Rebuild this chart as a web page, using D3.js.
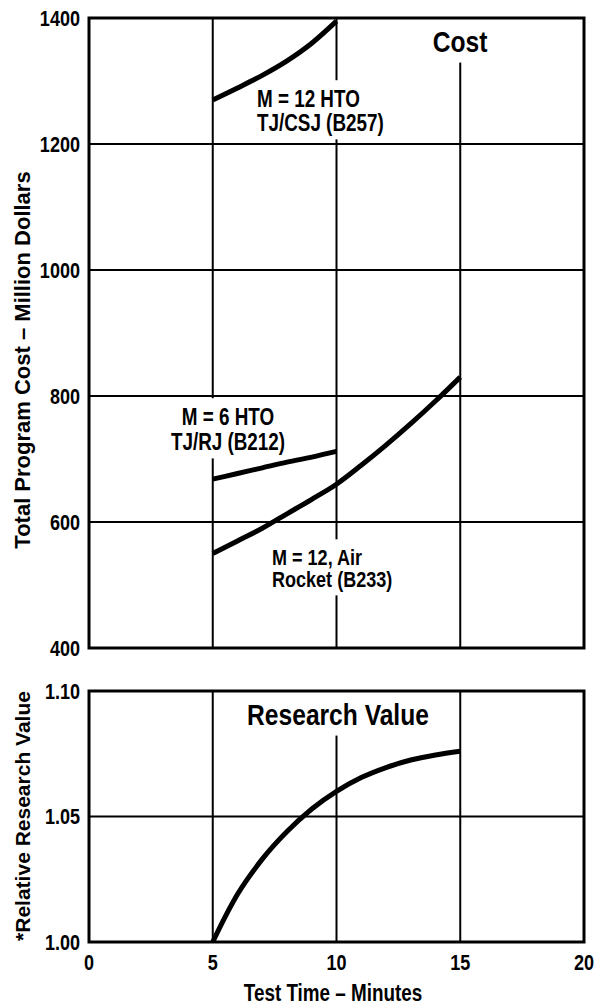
<!DOCTYPE html>
<html>
<head>
<meta charset="utf-8">
<script src="https://cdn.jsdelivr.net/npm/d3@7"></script>
<style>
  body { margin: 0; background: #fff; }
  text { font-family: "Liberation Sans", Arial, sans-serif; font-weight: bold; }
</style>
</head>
<body>
<div class="chartDIV"></div>
<script>
// Cost and research value vs. test time, two stacked panels

// test time (minutes) for each curve
var htoTime = [5, 6, 7, 8, 9, 10],
    rocketTime = [5, 6, 7, 8, 9, 10, 11, 12, 13, 14, 15],
    researchTime = [5, 5.5, 6, 7, 8, 9, 10, 11, 12, 13, 14, 15];

// total program cost, million dollars
var costM12Hto = [1270, 1289, 1309, 1332, 1360, 1395],
    costM6Hto = [668, 677, 686, 695, 703, 712],
    costM12Rocket = [550, 570, 590, 613, 636, 660, 690, 722, 756, 792, 830];

// relative research value
var researchValue = [1.000, 1.010, 1.019, 1.033, 1.044, 1.053, 1.060, 1.0655, 1.0695, 1.0725, 1.0745, 1.076];

var xTicks = [0, 5, 10, 15, 20],
    costTicks = [400, 600, 800, 1000, 1200, 1400],
    valueTicks = [1.00, 1.05, 1.10];

var width = 599,
    height = 1007,
    squeeze = 0.82,   // the lettering is a narrow bold face
    svg = d3.select(".chartDIV").
        append("svg").
        attr("width", width).
        attr("height", height);

var x = d3.scaleLinear().domain([0, 20]).range([89, 584]),
    yCost = d3.scaleLinear().domain([400, 1400]).range([648, 18]),
    yValue = d3.scaleLinear().domain([1.00, 1.10]).range([942, 691]);

// narrow text: a group squeezed sideways, text drawn at its origin
function narrow(parent, tx, ty, anchor, size) {
    return parent.append("g").
        attr("transform", "translate(" + tx + "," + ty + ") scale(" + squeeze + ",1)").
        append("text").
        attr("text-anchor", anchor).
        style("font-size", size + "px");
}

function drawPanel(y, yTicks, fmt) {
    var g = svg.append("g");
    g.selectAll(".vgrid").
        data(xTicks.slice(1, -1)).
        enter().
        append("line").
        attr("x1", function(d) { return x(d); }).
        attr("x2", function(d) { return x(d); }).
        attr("y1", y.range()[1]).
        attr("y2", y.range()[0]).
        attr("stroke", "#000").
        attr("stroke-width", 2);
    g.selectAll(".hgrid").
        data(yTicks.slice(1, -1)).
        enter().
        append("line").
        attr("x1", x.range()[0]).
        attr("x2", x.range()[1]).
        attr("y1", function(d) { return y(d); }).
        attr("y2", function(d) { return y(d); }).
        attr("stroke", "#000").
        attr("stroke-width", 2);
    yTicks.forEach(function(d) {
        narrow(g, 80, y(d), "end", 22).attr("dy", "0.36em").text(fmt(d));
    });
    return g;
}

drawPanel(yCost, costTicks, d3.format("d"));
drawPanel(yValue, valueTicks, d3.format(".2f"));

// labels with a white box that hides the grid behind them
function label(lines, lx, ly, anchor, size, lineGap) {
    var t = narrow(svg, lx, ly, anchor, size);
    lines.forEach(function(s, i) {
        t.append("tspan").attr("x", 0).attr("y", i * lineGap).text(s);
    });
    var b = t.node().getBBox();
    d3.select(t.node().parentNode).insert("rect", "text").
        attr("x", b.x - 7).
        attr("y", b.y - 6).
        attr("width", b.width + 14).
        attr("height", b.height + 10).
        attr("fill", "#fff");
}

label(["Cost"], 460, 52, "middle", 30, 0);
label(["Research Value"], 338, 725, "middle", 30, 0);
label(["M = 12 HTO", "TJ/CSJ (B257)"], 257, 107, "start", 23, 24);
label(["M = 6 HTO", "TJ/RJ (B212)"], 228, 425, "middle", 23, 25);
label(["M = 12, Air", "Rocket (B233)"], 272, 565, "start", 22, 22);

// frames
[yCost, yValue].forEach(function(y) {
    svg.append("rect").
        attr("x", x.range()[0]).
        attr("y", y.range()[1]).
        attr("width", x.range()[1] - x.range()[0]).
        attr("height", y.range()[0] - y.range()[1]).
        attr("fill", "none").
        attr("stroke", "#000").
        attr("stroke-width", 3);
});

// curves
var costLine = d3.line().
    curve(d3.curveMonotoneX).
    x(function(d) { return x(d[0]); }).
    y(function(d) { return yCost(d[1]); });

var valueLine = d3.line().
    curve(d3.curveMonotoneX).
    x(function(d) { return x(d[0]); }).
    y(function(d) { return yValue(d[1]); });

[[htoTime, costM12Hto], [htoTime, costM6Hto], [rocketTime, costM12Rocket]].forEach(function(s) {
    svg.append("path").
        attr("d", costLine(d3.zip(s[0], s[1]))).
        attr("fill", "none").
        attr("stroke", "#000").
        attr("stroke-width", 5);
});

svg.append("path").
    attr("d", valueLine(d3.zip(researchTime, researchValue))).
    attr("fill", "none").
    attr("stroke", "#000").
    attr("stroke-width", 5);

// x tick labels under the bottom panel
xTicks.forEach(function(d) {
    narrow(svg, x(d), 970, "middle", 22).text(d);
});

// axis titles
narrow(svg, 333, 1001, "middle", 23).text("Test Time \u2013 Minutes");

svg.append("text").
    attr("transform", "translate(30,360) rotate(-90)").
    attr("text-anchor", "middle").
    style("font-size", "22px").
    text("Total Program Cost \u2013 Million Dollars");

svg.append("text").
    attr("transform", "translate(30,816) rotate(-90)").
    attr("text-anchor", "middle").
    style("font-size", "21px").
    text("*Relative Research Value");
</script>
</body>
</html>
